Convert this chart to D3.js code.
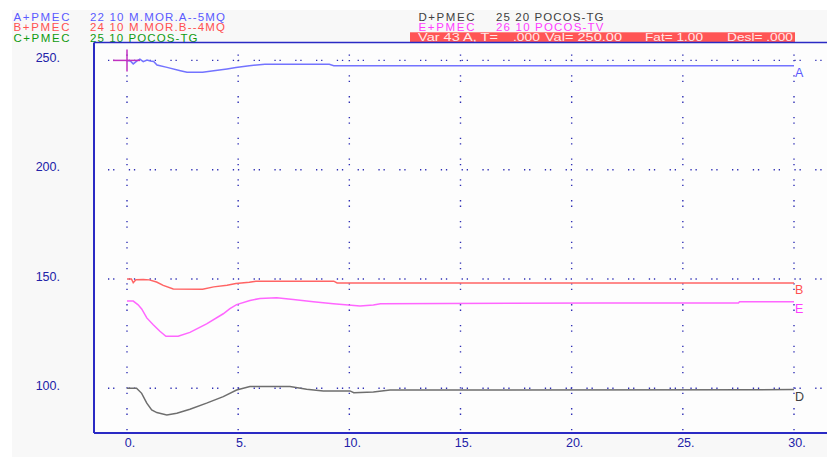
<!DOCTYPE html>
<html><head><meta charset="utf-8">
<script src="https://cdn.jsdelivr.net/npm/d3@7"></script>
<style>
html,body{margin:0;padding:0;background:#ffffff;}
svg{display:block;font-family:"Liberation Sans",Arial,sans-serif;}
</style></head>
<body>
<svg id="c" width="827" height="457"></svg>
<script>
// ---- data ----
const seriesIds   = ["A","B","C","D","E"];
const seriesCodes = ["A+PMEC","B+PMEC","C+PMEC","D+PMEC","E+PMEC"];
const seriesNames = ["22 10 M.MOR.A--5MQ","24 10 M.MOR.B--4MQ","25 10 POCOS-TG","25 20 POCOS-TG","26 10 POCOS-TV"];
const textColors  = ["#5a5aff","#ff5050","#109a10","#404040","#ff3cff"];
const lineColors  = ["#7373ff","#ff6464","#109a10","#6e6e6e","#ff66ff"];

const tA = [0,0.15,0.28,0.45,0.58,0.73,0.9,1.05,1.2,1.35,1.8,2.4,2.7,3.4,3.9,4.5,4.9,5.5,6.2,9.1,9.3,30];
const vA = [250,249.7,248.4,249.8,250.6,249.4,250.2,249.7,249.5,247.9,246.8,245.3,244.6,244.6,245.3,246.1,246.7,247.6,248.2,248.2,247.6,247.6];

const tB = [0,0.2,0.28,0.4,0.73,1.0,1.33,1.63,2.08,3.4,3.9,4.5,4.9,5.5,5.8,9.3,9.45,30];
const vB = [150,150,148.3,149.7,149.8,149.6,148.6,147.1,145.4,145.3,146.4,147.1,147.9,148.5,149.0,149.0,148.2,148.2];

const tD = [0,0.43,0.66,0.89,1.11,1.34,1.79,2.24,2.83,3.58,4.33,4.93,5.53,7.33,8.08,8.83,10.03,10.2,11.08,11.83,30];
const vD = [100,100,97.7,93.2,90.1,88.9,87.8,88.6,90.4,93.2,96.2,99.2,100.8,100.8,99.6,98.8,98.8,98.0,98.3,99.2,99.4];

const tE = [0,0.28,0.5,0.66,0.89,1.18,1.48,1.75,2.3,2.83,3.58,4.33,4.63,4.93,5.53,5.98,6.73,7.48,8.38,9.28,10.48,11.08,11.4,21.3,27.5,27.55,30];
const vE = [139.9,139.9,138.2,136.3,132.2,129.1,126.1,123.8,123.8,125.6,129.5,134.1,136.4,138.3,140.2,141.1,141.4,140.6,139.6,138.7,137.6,138.1,138.7,139.0,139.0,139.6,139.6];

const xTicks = [0,5,10,15,20,25,30];
const yTicks = [100,150,200,250];
const statusParts = ["Var  43 A, T=", ".000", "Val= 250.00", "Fat= 1.00", "Desl= .000"];
const cursorT = 0, cursorV = 250;

// ---- layout ----
const svg = d3.select("#c");
const frame = {left:94, top:42.5, right:827, bottom:433};
const x = d3.scaleLinear().domain([0,30]).range([127,794]);
const y = d3.scaleLinear().domain([100,250]).range([388.3,60.4]);
const frameCol = "#2a2ac4", gridCol = "#2e2eb4";

// backgrounds
svg.append("rect").attr("x",12).attr("y",10).attr("width",815).attr("height",447).attr("fill","#f8f8f8");
svg.append("rect").attr("x",frame.left).attr("y",frame.top).attr("width",frame.right-frame.left)
   .attr("height",frame.bottom-frame.top).attr("fill","#fdfdfd");

// header legend
const leftIdx=[0,1,2], rightIdx=[3,4];
const rowBase=[20.5,31.2,41.9];
const hf = 11.5;
leftIdx.forEach((i,r)=>{
  svg.append("text").attr("x",13.5).attr("y",rowBase[r]).attr("fill",textColors[i])
     .attr("font-size",hf).attr("textLength",56).attr("lengthAdjust","spacing").text(seriesCodes[i]);
  svg.append("text").attr("x",90).attr("y",rowBase[r]).attr("fill",textColors[i])
     .attr("font-size",hf).attr("textLength", seriesNames[i].length>15?135:107.5).attr("lengthAdjust","spacing").text(seriesNames[i]);
});
rightIdx.forEach((i,r)=>{
  svg.append("text").attr("x",418.5).attr("y",rowBase[r]).attr("fill",textColors[i])
     .attr("font-size",hf).attr("textLength",56).attr("lengthAdjust","spacing").text(seriesCodes[i]);
  svg.append("text").attr("x",496).attr("y",rowBase[r]).attr("fill",textColors[i])
     .attr("font-size",hf).attr("textLength",107.5).attr("lengthAdjust","spacing").text(seriesNames[i]);
});
// status bar
svg.append("rect").attr("x",410).attr("y",32.3).attr("width",385).attr("height",10).attr("fill","#ff5555");
const statusX=[418,513,545,645,727], statusW=[80,27,77,58,66];
statusParts.forEach((s,k)=>{
  svg.append("text").attr("x",statusX[k]).attr("y",41.4).attr("fill","#ffe8e8").attr("font-size",hf)
     .attr("textLength",statusW[k]).attr("lengthAdjust","spacingAndGlyphs").text(s);
});

// grid: horizontal rows at y ticks
svg.append("g").selectAll("line").data(yTicks).join("line")
  .attr("x1",108).attr("x2",frame.right).attr("y1",d=>y(d)).attr("y2",d=>y(d))
  .attr("stroke",gridCol).attr("stroke-width",1.4).attr("stroke-dasharray","1.3,3.8,1.3,14.4");
// grid: vertical dotted at x ticks
svg.append("g").selectAll("line").data(xTicks).join("line")
  .attr("x1",d=>x(d)).attr("x2",d=>x(d)).attr("y1",54.5).attr("y2",frame.bottom)
  .attr("stroke",gridCol).attr("stroke-width",1.4).attr("stroke-dasharray","1.3,4.2,1.3,14");

// frame
svg.append("line").attr("x1",frame.left).attr("x2",frame.right).attr("y1",frame.top).attr("y2",frame.top)
   .attr("stroke",frameCol).attr("stroke-width",1.5);
svg.append("line").attr("x1",frame.left).attr("x2",frame.right).attr("y1",frame.bottom).attr("y2",frame.bottom)
   .attr("stroke",frameCol).attr("stroke-width",2);
svg.append("line").attr("x1",frame.left).attr("x2",frame.left).attr("y1",frame.top).attr("y2",frame.bottom)
   .attr("stroke",frameCol).attr("stroke-width",2);

// axis labels
svg.append("g").selectAll("text").data(yTicks).join("text")
  .attr("x",60).attr("y",d=>y(d)+1.5).attr("text-anchor","end").attr("fill","#2222a8")
  .attr("font-size",12.5).text(d=>d+".");
svg.append("g").selectAll("text").data(xTicks).join("text")
  .attr("x",d=>x(d)+3).attr("y",447).attr("text-anchor","middle").attr("fill","#2222a8")
  .attr("font-size",12.5).text(d=>d+".");

// series lines
const series = [
  {id:"A", t:tA, v:vA, c:lineColors[0], tc:textColors[0]},
  {id:"B", t:tB, v:vB, c:lineColors[1], tc:textColors[1]},
  {id:"E", t:tE, v:vE, c:lineColors[4], tc:textColors[4]},
  {id:"D", t:tD, v:vD, c:lineColors[3], tc:textColors[3]}
];
const line = d3.line().x(d=>x(d[0])).y(d=>y(d[1]));
series.forEach(s=>{
  const pts = s.t.map((t,i)=>[t,s.v[i]]);
  svg.append("path").attr("d",line(pts)).attr("fill","none").attr("stroke",s.c).attr("stroke-width",1.5);
  const last = pts[pts.length-1];
  svg.append("text").attr("x",x(last[0])+1).attr("y",y(last[1])+11).attr("fill",s.tc)
     .attr("font-size",12.5).text(s.id);
});

// cursor cross
svg.append("line").attr("x1",x(cursorT)).attr("x2",x(cursorT)).attr("y1",y(cursorV)-11).attr("y2",y(cursorV)+11)
   .attr("stroke","#c030c0").attr("stroke-width",1.5);
svg.append("line").attr("x1",x(cursorT)-14).attr("x2",x(cursorT)+13).attr("y1",y(cursorV)).attr("y2",y(cursorV))
   .attr("stroke","#c030c0").attr("stroke-width",1.5);
</script>
</body></html>
